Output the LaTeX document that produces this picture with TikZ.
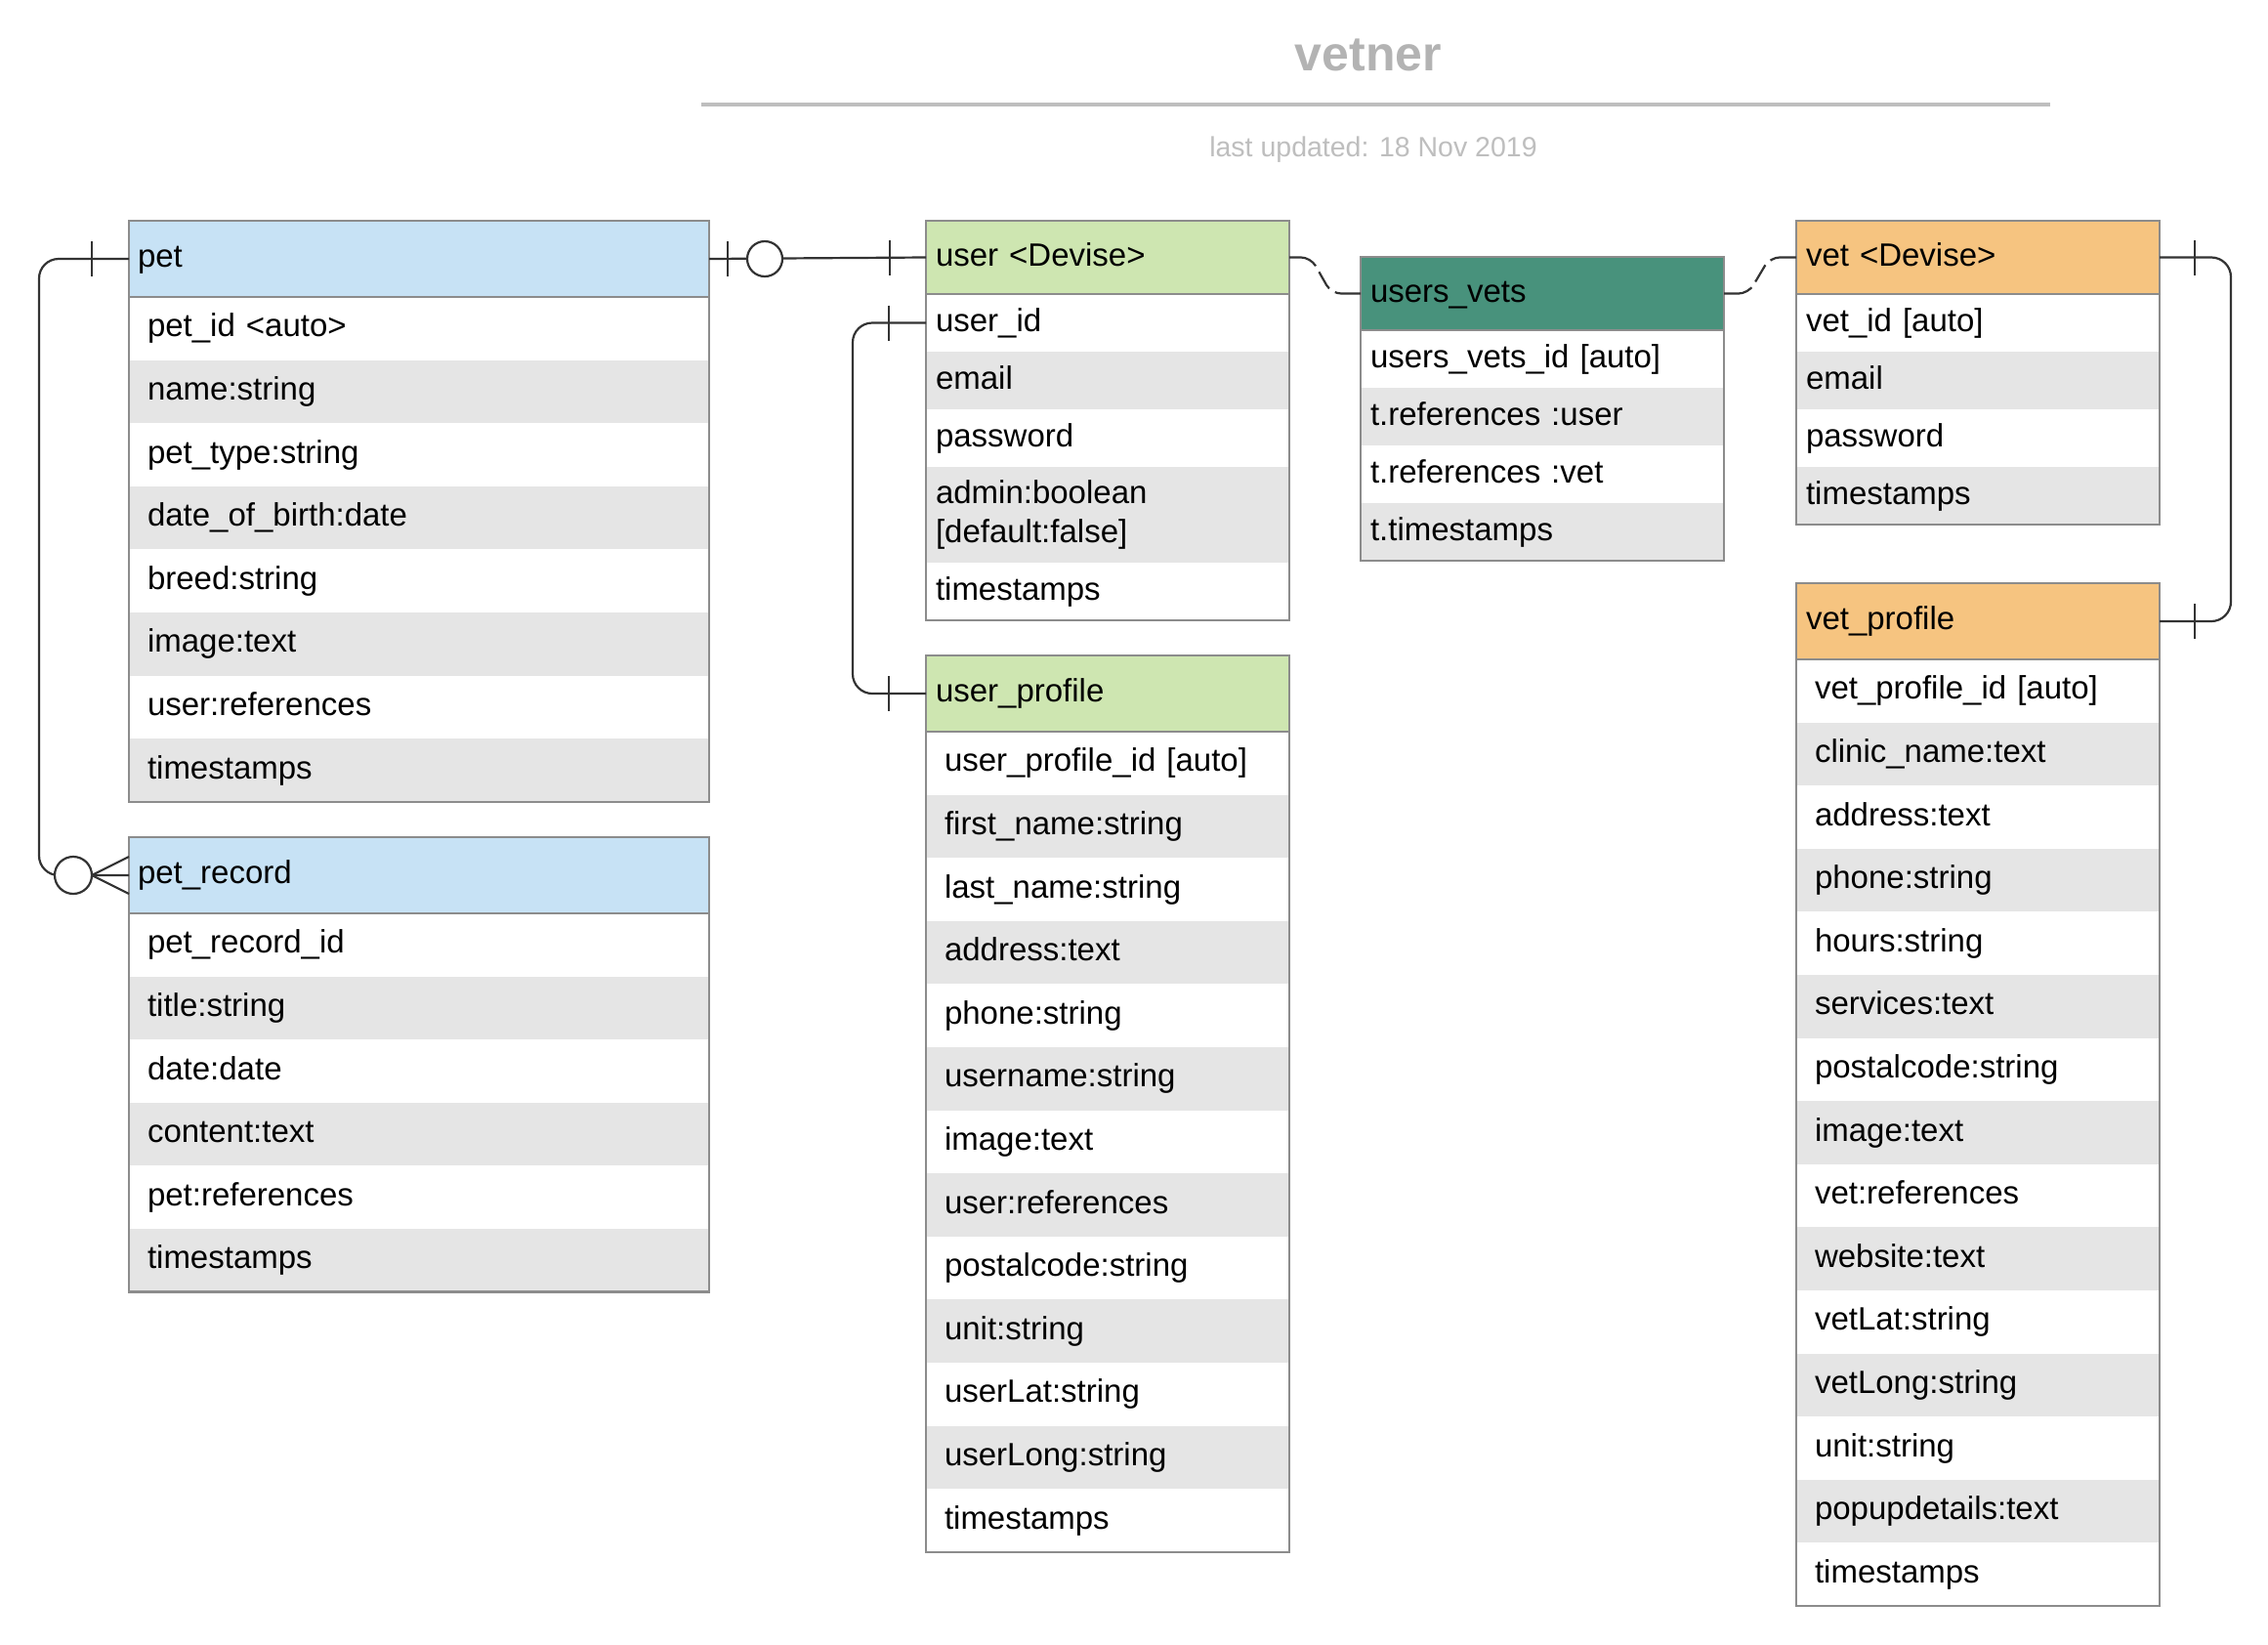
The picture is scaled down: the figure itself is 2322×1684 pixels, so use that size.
\documentclass[tikz,border=0pt]{standalone}
\usepackage{fontspec}
\setmainfont{Liberation Sans}
\usepackage{tikz}
\usetikzlibrary{positioning}

\definecolor{petblue}{RGB}{199,226,245}
\definecolor{usergreen}{RGB}{206,230,177}
\definecolor{jointeal}{RGB}{72,146,124}
\definecolor{vetorange}{RGB}{246,196,128}
\definecolor{rowgray}{RGB}{229,229,229}
\definecolor{framegray}{RGB}{140,140,140}
\definecolor{titlegray}{RGB}{179,179,179}
\definecolor{subgray}{RGB}{190,190,190}

\newcommand{\erfont}{\fontsize{33}{40}\selectfont}

\begin{document}
\begin{tikzpicture}[x=1pt, y=-1pt,
    cell/.style={anchor=north west, inner ysep=0pt, outer sep=0pt,
      align=left, text height=24pt, text depth=7pt, font=\erfont},
    widehead/.style={cell, text width=576pt, inner xsep=9pt, minimum height=78pt},
    widerow/.style={cell, text width=556pt, inner xsep=19pt, minimum height=64.6pt},
    slimhead/.style={cell, text width=352pt, inner xsep=10pt, minimum height=#1},
    slimhead/.default=75pt,
    slimrow/.style={cell, text width=352pt, inner xsep=10pt, minimum height=59pt},
    proflrow/.style={cell, text width=334pt, inner xsep=19pt, minimum height=64.6pt},
    frame/.style={draw=framegray, line width=2.5pt},
    rel/.style={draw=black!80, line width=2.2pt},
    reldash/.style={rel, dash pattern=on 30pt off 7pt on 20pt off 7pt, rounded corners=10pt},
]
  \useasboundingbox (0,0) rectangle (2322,1684);

  % ---- Title ----
  \node[font=\bfseries\fontsize{50}{60}\selectfont, text=titlegray, anchor=base]
    (title) at (1401,72) {vetner};
  \draw[line width=4pt, draw=subgray] (718,107) -- (2099,107);
  \node[font=\fontsize{28.5}{34}\selectfont, text=subgray, anchor=base]
    (updated) at (1406,160) {last updated: 18 Nov 2019};

  % ---- pet ----
  \node[widehead, fill=petblue] (pet) at (132,226) {pet};
  \foreach \txt [count=\i] in {pet\_id <auto>, name:string, pet\_type:string,
      date\_of\_birth:date, breed:string, image:text, user:references, timestamps} {
    \pgfmathsetmacro{\ypos}{304+(\i-1)*64.6}
    \ifodd\i \def\rowfill{white}\else \def\rowfill{rowgray}\fi
    \node[widerow, fill=\rowfill] (pet-\i) at (132,\ypos) {\txt};
  }
  \draw[frame] (pet.north west) rectangle (pet-8.south east)
    (pet.south west) -- (pet.south east);

  % ---- pet_record ----
  \node[widehead, fill=petblue] (pet_record) at (132,857) {pet\_record};
  \foreach \txt [count=\i] in {pet\_record\_id, title:string, date:date,
      content:text, pet:references, timestamps} {
    \pgfmathsetmacro{\ypos}{935+(\i-1)*64.6}
    \ifodd\i \def\rowfill{white}\else \def\rowfill{rowgray}\fi
    \node[widerow, fill=\rowfill] (pet_record-\i) at (132,\ypos) {\txt};
  }
  \draw[frame] (pet_record.north west) rectangle (pet_record-6.south east)
    (pet_record.south west) -- (pet_record.south east);

  % ---- user <Devise> ----
  \node[slimhead, fill=usergreen] (user) at (948,226) {user <Devise>};
  \node[slimrow, fill=white, below=0pt of user] (user-1) {user\_id};
  \node[slimrow, fill=rowgray, below=0pt of user-1] (user-2) {email};
  \node[slimrow, fill=white, below=0pt of user-2] (user-3) {password};
  \node[slimrow, fill=rowgray, minimum height=98pt, text height={}, text depth={},
    below=0pt of user-3] (user-4) {admin:boolean\\{}[default:false]};
  \node[slimrow, fill=white, below=0pt of user-4] (user-5) {timestamps};
  \draw[frame] (user.north west) rectangle (user-5.south east)
    (user.south west) -- (user.south east);

  % ---- user_profile ----
  \node[slimhead=78pt, fill=usergreen] (user_profile) at (948,671) {user\_profile};
  \foreach \txt [count=\i] in {user\_profile\_id [auto], first\_name:string,
      last\_name:string, address:text, phone:string, username:string, image:text,
      user:references, postalcode:string, unit:string, userLat:string,
      userLong:string, timestamps} {
    \pgfmathsetmacro{\ypos}{749+(\i-1)*64.6}
    \ifodd\i \def\rowfill{white}\else \def\rowfill{rowgray}\fi
    \node[proflrow, fill=\rowfill] (user_profile-\i) at (948,\ypos) {\txt};
  }
  \draw[frame] (user_profile.north west) rectangle (user_profile-13.south east)
    (user_profile.south west) -- (user_profile.south east);

  % ---- users_vets ----
  \node[slimhead, fill=jointeal] (users_vets) at (1393,263) {users\_vets};
  \node[slimrow, fill=white, below=0pt of users_vets] (users_vets-1) {users\_vets\_id [auto]};
  \node[slimrow, fill=rowgray, below=0pt of users_vets-1] (users_vets-2) {t.references :user};
  \node[slimrow, fill=white, below=0pt of users_vets-2] (users_vets-3) {t.references :vet};
  \node[slimrow, fill=rowgray, below=0pt of users_vets-3] (users_vets-4) {t.timestamps};
  \draw[frame] (users_vets.north west) rectangle (users_vets-4.south east)
    (users_vets.south west) -- (users_vets.south east);

  % ---- vet <Devise> ----
  \node[slimhead, fill=vetorange] (vet) at (1839,226) {vet <Devise>};
  \node[slimrow, fill=white, below=0pt of vet] (vet-1) {vet\_id [auto]};
  \node[slimrow, fill=rowgray, below=0pt of vet-1] (vet-2) {email};
  \node[slimrow, fill=white, below=0pt of vet-2] (vet-3) {password};
  \node[slimrow, fill=rowgray, below=0pt of vet-3] (vet-4) {timestamps};
  \draw[frame] (vet.north west) rectangle (vet-4.south east)
    (vet.south west) -- (vet.south east);

  % ---- vet_profile ----
  \node[slimhead=78pt, fill=vetorange] (vet_profile) at (1839,597) {vet\_profile};
  \foreach \txt [count=\i] in {vet\_profile\_id [auto], clinic\_name:text,
      address:text, phone:string, hours:string, services:text, postalcode:string,
      image:text, vet:references, website:text, vetLat:string, vetLong:string,
      unit:string, popupdetails:text, timestamps} {
    \pgfmathsetmacro{\ypos}{675+(\i-1)*64.6}
    \ifodd\i \def\rowfill{white}\else \def\rowfill{rowgray}\fi
    \node[proflrow, fill=\rowfill] (vet_profile-\i) at (1839,\ypos) {\txt};
  }
  \draw[frame] (vet_profile.north west) rectangle (vet_profile-15.south east)
    (vet_profile.south west) -- (vet_profile.south east);

  % ---- pet -- user ----
  \draw[rel] (pet.east) -- (user.west);
  \draw[rel] ([xshift=19pt,yshift=18pt]pet.east) -- ([xshift=19pt,yshift=-18pt]pet.east);
  \draw[rel, fill=white] ([xshift=57pt]pet.east) circle (18pt);
  \draw[rel] ([xshift=-37pt,yshift=18pt]user.west) -- ([xshift=-37pt,yshift=-18pt]user.west);

  % ---- pet -- pet_record ----
  \draw[rel, rounded corners=20pt] (pet.west) -| ([xshift=-92pt]pet_record.west)
    -- (pet_record.west);
  \draw[rel] ([xshift=-38pt,yshift=18pt]pet.west) -- ([xshift=-38pt,yshift=-18pt]pet.west);
  \draw[rel, fill=white] ([xshift=-57pt]pet_record.west) circle (19pt);
  \draw[rel] ([xshift=-38pt]pet_record.west) -- ([yshift=19pt]pet_record.west)
    ([xshift=-38pt]pet_record.west) -- ([yshift=-19pt]pet_record.west);

  % ---- user -- user_profile ----
  \draw[rel, rounded corners=20pt] (user-1.west) -| ([xshift=-75pt]user_profile.west)
    -- (user_profile.west);
  \draw[rel] ([xshift=-38pt,yshift=18pt]user-1.west) -- ([xshift=-38pt,yshift=-18pt]user-1.west);
  \draw[rel] ([xshift=-38pt,yshift=18pt]user_profile.west) -- ([xshift=-38pt,yshift=-18pt]user_profile.west);

  % ---- vet -- vet_profile ----
  \draw[rel, rounded corners=20pt] (vet.east) -| ([xshift=73pt]vet_profile.east)
    -- (vet_profile.east);
  \draw[rel] ([xshift=36pt,yshift=18pt]vet.east) -- ([xshift=36pt,yshift=-18pt]vet.east);
  \draw[rel] ([xshift=36pt,yshift=18pt]vet_profile.east) -- ([xshift=36pt,yshift=-18pt]vet_profile.east);

  % ---- join table ----
  \draw[reldash] (user.east) -- ([xshift=22pt]user.east)
    -- ([xshift=-30pt]users_vets.west) -- (users_vets.west);
  \draw[reldash] (users_vets.east) -- ([xshift=25pt]users_vets.east)
    -- ([xshift=-27pt]vet.west) -- (vet.west);

\end{tikzpicture}
\end{document}
